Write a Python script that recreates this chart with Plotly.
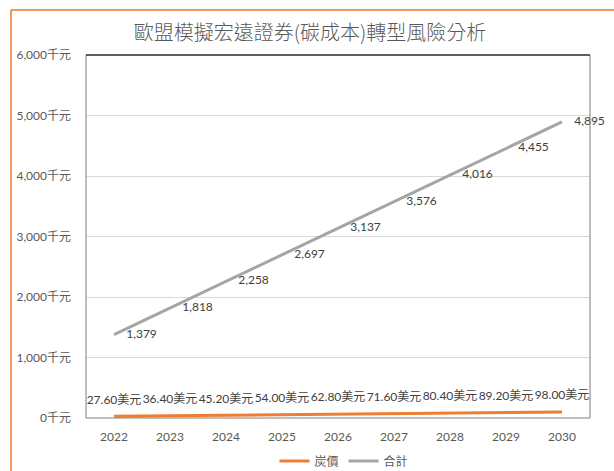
import plotly.graph_objects as go

years = ["2022", "2023", "2024", "2025", "2026", "2027", "2028", "2029", "2030"]
carbon_price = [27.60, 36.40, 45.20, 54.00, 62.80, 71.60, 80.40, 89.20, 98.00]
total = [1379, 1818, 2258, 2697, 3137, 3576, 4016, 4455, 4895]
y_ticks = [0, 1000, 2000, 3000, 4000, 5000, 6000]
y_tick_labels = ["0千元", "1,000千元", "2,000千元", "3,000千元", "4,000千元", "5,000千元", "6,000千元"]

FONT = "Lato, Noto Sans CJK TC, sans-serif"
CJK = "Noto Sans CJK TC, sans-serif"

fig = go.Figure()
fig.add_trace(go.Scatter(
    x=years, y=carbon_price, name="炭價", mode="lines+markers+text",
    line=dict(color="#ED7D31", width=3),
    texttemplate="%{y:.2f}美元", textposition="top center",
    marker=dict(size=14, color="rgba(0,0,0,0)"),
    textfont=dict(size=12, color="#404040", family=FONT),
    cliponaxis=False,
))
fig.add_trace(go.Scatter(
    x=years, y=total, name="合計", mode="lines+markers+text",
    line=dict(color="#A5A5A5", width=3),
    texttemplate="%{y:,.0f}", textposition="middle right",
    marker=dict(size=18, color="rgba(0,0,0,0)"),
    textfont=dict(size=12, color="#404040", family=FONT),
    cliponaxis=False,
))

W, H = 614, 471
L, R, T, B = 86, 24, 55, 53
pw, ph = W - L - R, H - T - B

def px(x):
    return (x - L) / pw

def py(y):
    return (H - B - y) / ph

shapes = [
    dict(type="rect", xref="paper", yref="paper", x0=0, x1=1, y0=0, y1=1,
         line=dict(color="#7f7f7f", width=1)),
    dict(type="line", xref="paper", yref="paper", x0=0, x1=1, y0=1, y1=1,
         line=dict(color="#000000", width=1)),
    dict(type="line", xref="paper", yref="paper", x0=px(11), x1=px(11), y0=py(10), y1=py(475),
         line=dict(color="#E8772E", width=1.5)),
    dict(type="line", xref="paper", yref="paper", x0=px(11), x1=px(620), y0=py(10), y1=py(10),
         line=dict(color="#E8772E", width=1.5)),
]

fig.update_layout(
    width=W, height=H,
    margin=dict(l=L, r=R, t=T, b=B, autoexpand=False),
    paper_bgcolor="white", plot_bgcolor="white",
    title=dict(text="歐盟模擬宏遠證券(碳成本)轉型風險分析", x=310 / W, xanchor="center",
               y=1 - 33 / H, yanchor="middle", yref="container",
               font=dict(size=20, color="#595959", family=CJK, weight=300)),
    xaxis=dict(type="category", range=[-0.5, 8.5], showgrid=False, showline=False,
               ticks="", ticklabelstandoff=10,
               tickfont=dict(size=12, color="#595959", family=FONT)),
    yaxis=dict(range=[0, 6000], tickvals=y_ticks, ticktext=y_tick_labels,
               showgrid=True, gridcolor="#d9d9d9", gridwidth=1, zeroline=False,
               showline=False, ticks="", ticklabelstandoff=14,
               tickfont=dict(size=12, color="#595959", family=FONT)),
    legend=dict(orientation="h", x=px(344), xanchor="center", y=py(461), yanchor="middle",
                font=dict(size=12, color="#595959", family=CJK), itemwidth=30),
    showlegend=True,
    shapes=shapes,
)

fig.write_html("out.html", config={"displayModeBar": False},
               post_script="document.body.style.margin='0';")
